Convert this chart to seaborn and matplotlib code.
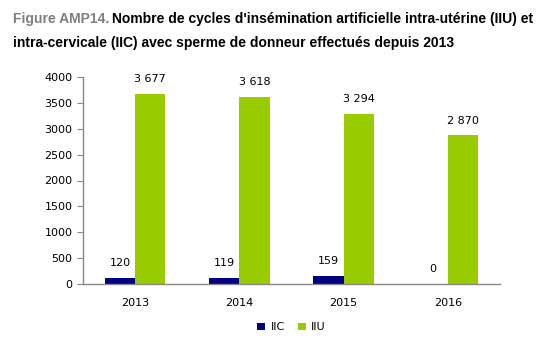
import matplotlib
matplotlib.use("Agg")
import matplotlib.pyplot as plt
import seaborn as sns
import pandas as pd

years = ["2013", "2014", "2015", "2016"]
iic = [120, 119, 159, 0]
iiu = [3677, 3618, 3294, 2870]
yticks = [0, 500, 1000, 1500, 2000, 2500, 3000, 3500, 4000]

df = pd.DataFrame({
    "Année": years * 2,
    "Type": ["IIC"] * len(years) + ["IIU"] * len(years),
    "Cycles": iic + iiu,
})

sns.set_style("white")
plt.rcParams['font.family'] = ['DejaVu Sans']
plt.rcParams['text.color'] = 'black'
plt.rcParams['xtick.color'] = 'black'
plt.rcParams['ytick.color'] = 'black'

fig = plt.figure(figsize=(5.5, 3.5), dpi=100)
ax = fig.add_axes([83/550, 1 - 284/350, 417/550, 207/350])

palette = {"IIC": "#000080", "IIU": "#99CC00"}
sns.barplot(ax=ax, data=df, x="Année", y="Cycles", hue="Type", palette=palette,
            width=0.58, saturation=1, linewidth=0, legend=True)

def fmt(v):
    return f"{v:,}".replace(",", " ")

for cont in ax.containers:
    labels = [fmt(int(b.get_height())) for b in cont]
    ax.bar_label(cont, labels=labels, padding=7, fontsize=8)

ax.set_ylim(0, 4000)
ax.set_xlim(-0.5, 3.5)
ax.set_yticks(yticks)
ax.set_xticks([i - 0.5 for i in range(5)], minor=True)
ax.tick_params(axis='x', which='major', length=0, labelsize=8, pad=10)
ax.tick_params(axis='x', which='minor', length=4, color='#888888', direction='out')
ax.tick_params(axis='y', length=4, color='#888888', direction='out', labelsize=8, left=True)
ax.set_xlabel("")
ax.set_ylabel("")
for s in ["top", "right"]:
    ax.spines[s].set_visible(False)
for s in ["left", "bottom"]:
    ax.spines[s].set_color('#888888')
    ax.spines[s].set_linewidth(1)

leg = ax.legend(loc='center', bbox_to_anchor=(0.5, -0.21), ncol=2, frameon=False,
                fontsize=8, handlelength=0.7, handleheight=0.7, handletextpad=0.5,
                columnspacing=1.2)

tfont = dict(fontsize=10, fontweight='bold', family=['Liberation Sans'], va='center')
t1 = fig.text(13/550, 1 - 19/350, "Figure AMP14.", color="#7f7f7f", **tfont)
fig.canvas.draw()
w = t1.get_window_extent(renderer=fig.canvas.get_renderer()).width
fig.text(13/550 + (w + 3) / 550, 1 - 19/350,
         "Nombre de cycles d'insémination artificielle intra-utérine (IIU) et",
         color="black", **tfont)
fig.text(13/550, 1 - 43/350,
         "intra-cervicale (IIC) avec sperme de donneur effectués depuis 2013",
         color="black", **tfont)

fig.savefig("out.png", dpi=100, facecolor="white")
